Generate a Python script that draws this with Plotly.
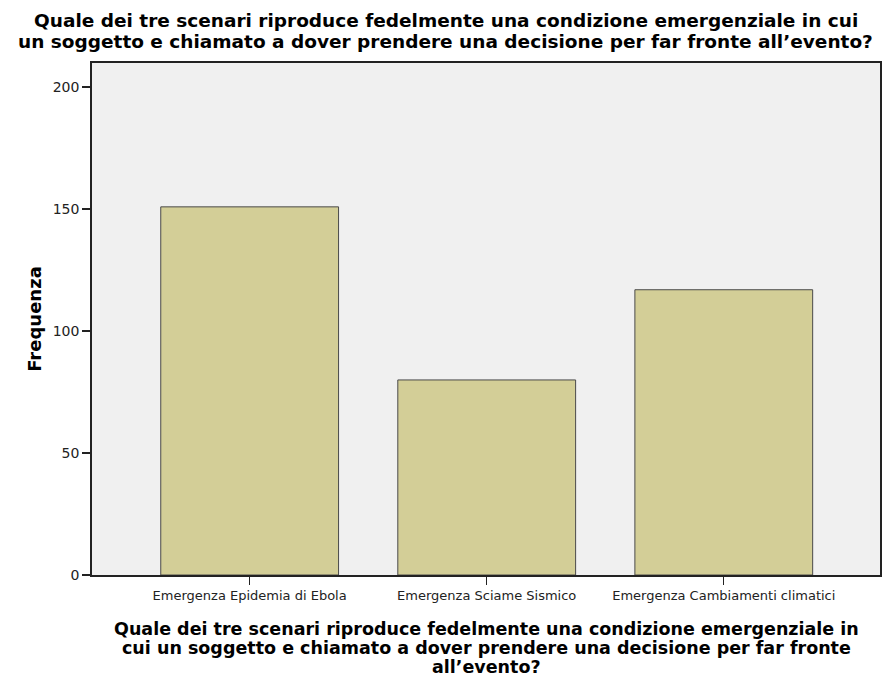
import plotly.graph_objects as go

# Dati
scenari = ["Emergenza Epidemia di Ebola", "Emergenza Sciame Sismico", "Emergenza Cambiamenti climatici"]
frequenze = [151, 80, 117]
y_ticks = [0, 50, 100, 150, 200]

titolo_righe = ["Quale dei tre scenari riproduce fedelmente una condizione emergenziale in cui",
                "un soggetto e chiamato a dover prendere una decisione per far fronte all\u2019evento?"]
asse_x_righe = ["Quale dei tre scenari riproduce fedelmente una condizione emergenziale in",
                "cui un soggetto e chiamato a dover prendere una decisione per far fronte",
                "all\u2019evento?"]

FONT = "DejaVu Sans, Verdana, sans-serif"

fig = go.Figure()

fig.add_trace(go.Bar(
    x=list(range(len(scenari))),
    y=frequenze,
    width=0.75,
    marker_color="#D3CE97",
    marker_line_color="#4a4a4a",
    marker_line_width=1,
    hovertemplate="%{text}: %{y}<extra></extra>",
    text=scenari,
    textposition="none",
))

# titolo del grafico, due righe con interlinea stretta
for i, riga in enumerate(titolo_righe):
    fig.add_annotation(
        text=riga, xref="paper", yref="paper", x=0.449, y=1,
        yshift=43 - i * 21, xanchor="center", yanchor="middle",
        showarrow=False, font=dict(family=FONT, size=18.5, color="#000000", weight="bold"),
    )

# titolo asse x su tre righe
for i, riga in enumerate(asse_x_righe):
    fig.add_annotation(
        text=riga, xref="paper", yref="paper", x=0.5, y=0,
        yshift=-54 - i * 19, xanchor="center", yanchor="middle",
        showarrow=False, font=dict(family=FONT, size=17.5, color="#000000", weight="bold"),
    )

fig.update_layout(
    width=886,
    height=681,
    margin=dict(l=92, r=6, t=63, b=106),
    paper_bgcolor="white",
    plot_bgcolor="#F0F0F0",
    showlegend=False,
    font=dict(family=FONT, color="#222222"),
    xaxis=dict(
        range=[-0.665, 2.659],
        tickvals=list(range(len(scenari))),
        ticktext=scenari,
        ticks="outside", ticklen=8, tickcolor="#222222", tickwidth=1,
        tickfont=dict(size=13, color="#222222"),
        showline=True, linecolor="#222222", linewidth=1.5, mirror=True,
        showgrid=False, zeroline=False, fixedrange=True, automargin=False,
    ),
    yaxis=dict(
        range=[0, 210],
        tickvals=y_ticks,
        ticks="outside", ticklen=8, tickcolor="#222222", tickwidth=1.5,
        tickfont=dict(size=14, color="#222222"),
        showline=True, linecolor="#222222", linewidth=1.5, mirror=True,
        showgrid=False, zeroline=False, fixedrange=True, automargin=False,
        title=dict(text="Frequenza", standoff=6,
                   font=dict(family=FONT, size=18, color="#000000", weight="bold")),
    ),
)

# niente margine del body, cosi il grafico parte dall'angolo della pagina
fig.write_html("out.html", config={"displayModeBar": False},
               post_script="document.body.style.margin='0px';")
